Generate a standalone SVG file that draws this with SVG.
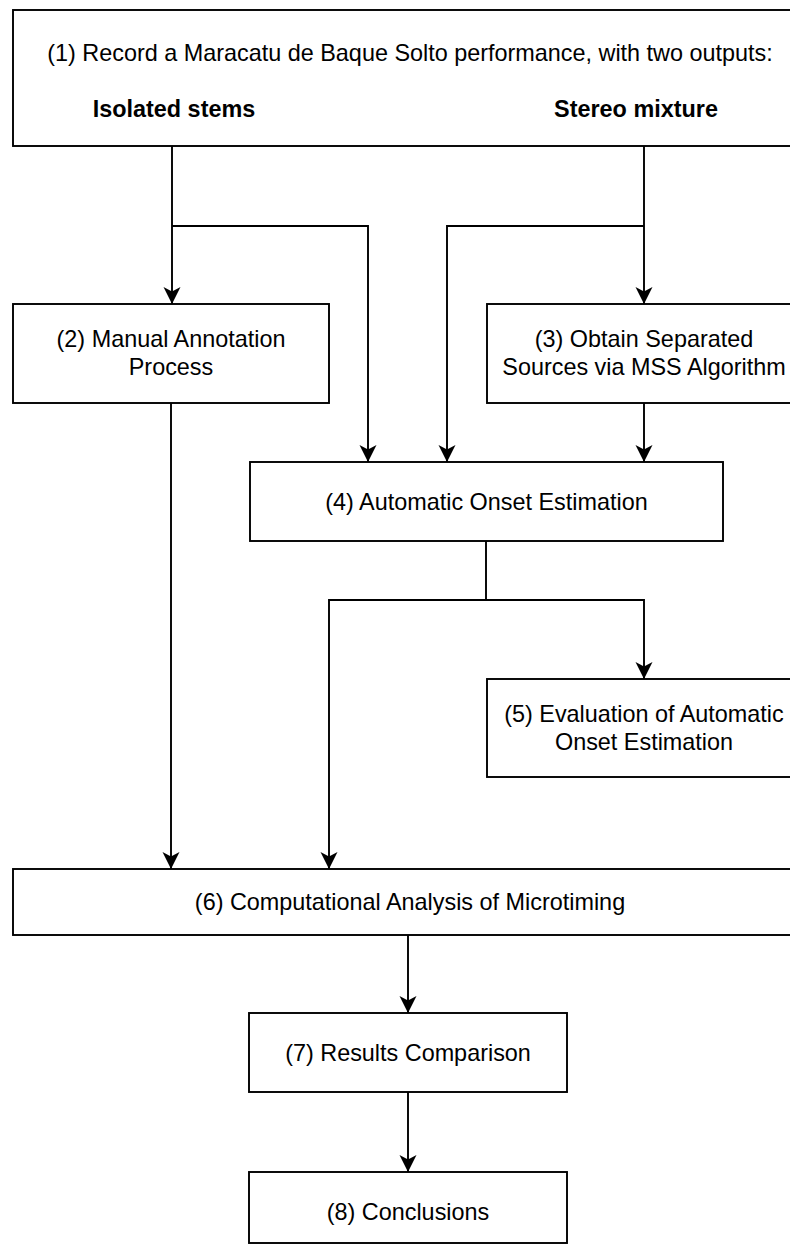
<svg xmlns="http://www.w3.org/2000/svg" width="790" height="1245" viewBox="0 0 790 1245">
<style>
.box{fill:#fff;stroke:#000;stroke-width:1.9}
.t{font-family:"Liberation Sans",Arial,Helvetica,sans-serif;font-size:23.4px;fill:#000;text-anchor:middle}
.b{font-weight:bold}
.c{fill:none;stroke:#000;stroke-width:1.9}
</style>
<defs>
<marker id="arr" markerUnits="userSpaceOnUse" markerWidth="20" markerHeight="20" viewBox="-18 -10 20 20" refX="0" refY="0" orient="auto">
<path d="M0,0 L-17,-8.5 L-12.5,0 L-17,8.5 Z" fill="#000"/>
</marker>
</defs>
<rect width="790" height="1245" fill="#fff"/>
<g id="connectors">
<path class="c" d="M172 146 V304" marker-end="url(#arr)"/>
<path class="c" d="M172 226 H368 V462" marker-end="url(#arr)"/>
<path class="c" d="M644 146 V304" marker-end="url(#arr)"/>
<path class="c" d="M644 226 H447 V462" marker-end="url(#arr)"/>
<path class="c" d="M644 403 V462" marker-end="url(#arr)"/>
<path class="c" d="M171 403 V869" marker-end="url(#arr)"/>
<path class="c" d="M486 541 V600 H329 V869" marker-end="url(#arr)"/>
<path class="c" d="M486 600 H644 V679" marker-end="url(#arr)"/>
<path class="c" d="M408 935 V1013" marker-end="url(#arr)"/>
<path class="c" d="M408 1092 V1172" marker-end="url(#arr)"/>
</g>
<g id="n1">
<rect class="box" x="13" y="10" width="794" height="136"/>
<text class="t" x="410" y="61">(1) Record a Maracatu de Baque Solto performance, with two outputs:</text>
<text class="t b" x="174" y="117">Isolated stems</text>
<text class="t b" x="636" y="117">Stereo mixture</text>
</g>
<g id="n2">
<rect class="box" x="13" y="304" width="316" height="99"/>
<text class="t" x="171" y="347">(2) Manual Annotation</text>
<text class="t" x="171" y="375">Process</text>
</g>
<g id="n3">
<rect class="box" x="487" y="304" width="314" height="99"/>
<text class="t" x="644" y="347">(3) Obtain Separated</text>
<text class="t" x="644" y="375">Sources via MSS Algorithm</text>
</g>
<g id="n4">
<rect class="box" x="250" y="462" width="473" height="79"/>
<text class="t" x="486.5" y="510">(4) Automatic Onset Estimation</text>
</g>
<g id="n5">
<rect class="box" x="487" y="679" width="314" height="98"/>
<text class="t" x="644" y="722">(5) Evaluation of Automatic</text>
<text class="t" x="644" y="750">Onset Estimation</text>
</g>
<g id="n6">
<rect class="box" x="13" y="869" width="794" height="66"/>
<text class="t" x="410" y="910">(6) Computational Analysis of Microtiming</text>
</g>
<g id="n7">
<rect class="box" x="249" y="1013" width="318" height="79"/>
<text class="t" x="408" y="1061">(7) Results Comparison</text>
</g>
<g id="n8">
<rect class="box" x="249" y="1172" width="318" height="71"/>
<text class="t" x="408" y="1220">(8) Conclusions</text>
</g>
</svg>
